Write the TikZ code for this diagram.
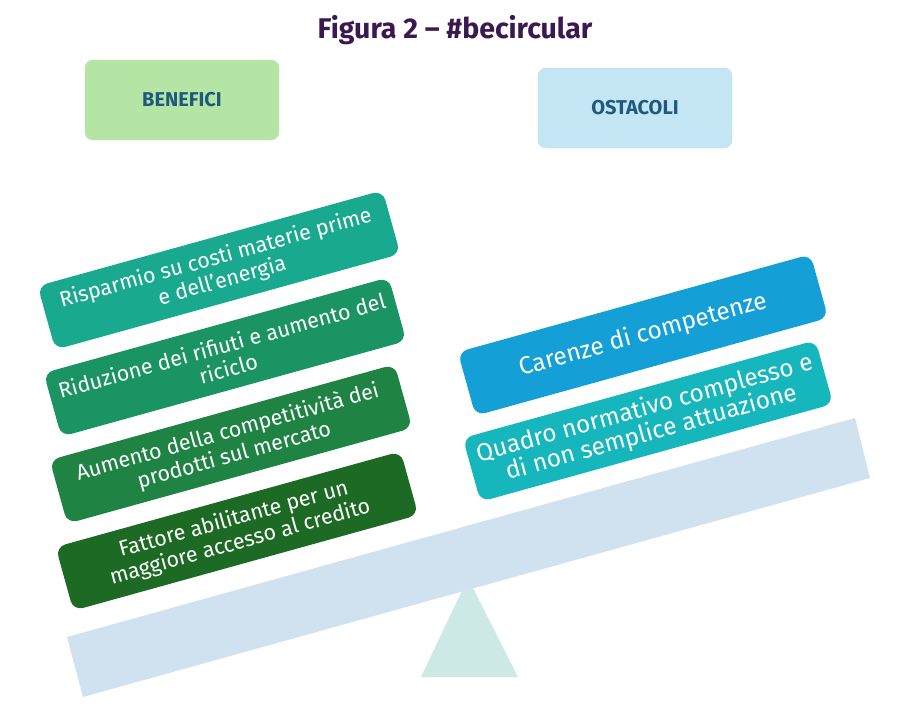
\documentclass[tikz,border=0pt]{standalone}
\usepackage{fontspec}
\setmainfont{Fira Sans}
\usepackage{xcolor}
\usepackage{tikz}
\definecolor{titlepurple}{RGB}{58, 24, 80}
\definecolor{headerblue}{RGB}{30, 90, 125}
\definecolor{benefitgreen}{RGB}{181, 229, 165}
\definecolor{obstacleblue}{RGB}{196, 229, 244}
\definecolor{greenone}{RGB}{25, 169, 142}
\definecolor{greentwo}{RGB}{27, 148, 100}
\definecolor{greenthree}{RGB}{30, 131, 67}
\definecolor{greenfour}{RGB}{28, 106, 36}
\definecolor{blueone}{RGB}{20, 160, 214}
\definecolor{bluetwo}{RGB}{22, 182, 189}
\definecolor{beamblue}{RGB}{208, 226, 240}
\definecolor{fulcrumteal}{RGB}{205, 233, 229}

\begin{document}
\begin{tikzpicture}[
    x=1pt, y=-1pt,
    header/.style={draw=#1!85!black!60, fill=#1, rounded corners=8pt, minimum width=194pt,
                   minimum height=80pt, text=headerblue,
                   font=\bfseries\fontsize{20}{22}\selectfont},
    benefit/.style={fill=#1, rounded corners=10pt, minimum width=358pt, minimum height=66pt,
                    rotate=15.5, align=center, text=white, inner sep=1pt,
                    font=\fontsize{21.5}{24}\selectfont},
    obstacle/.style={benefit=#1, minimum width=366pt, font=\fontsize{24.5}{25}\selectfont}
]
    \useasboundingbox (0,0) rectangle (898,712);

    \node[font=\bfseries\fontsize{28.5}{32}\selectfont, text=titlepurple] (title) at (455,30) {Figura 2 – \#becircular};

    \node[header=benefitgreen] (benefici) at (182,100) {BENEFICI};
    \node[header=obstacleblue] (ostacoli) at (635,108) {OSTACOLI};

    % bilancia
    \coordinate (apex) at (468,578);
    \fill[fulcrumteal] (apex) -- (518,677) -- (421,677) -- cycle;
    \fill[beamblue] (67,637) -- (855,418) -- (870,478) -- (83,697) -- cycle;

    \node[benefit=greenone] (risparmio) at (219,270) {Risparmio su costi materie prime\\e dell'energia};
    \node[benefit=greentwo] (riduzione) at (225,357) {Riduzione dei rifiuti e aumento del\\riciclo};
    \node[benefit=greenthree] (competitivita) at (231,444) {Aumento della competitività dei\\prodotti sul mercato};
    \node[benefit=greenfour] (credito) at (237,531) {Fattore abilitante per un\\maggiore accesso al credito};

    \node[obstacle=blueone] (competenze) at (643,335) {Carenze di competenze};
    \node[obstacle=bluetwo] (normativa) at (648,421) {Quadro normativo complesso e\\di non semplice attuazione};
\end{tikzpicture}
\end{document}
